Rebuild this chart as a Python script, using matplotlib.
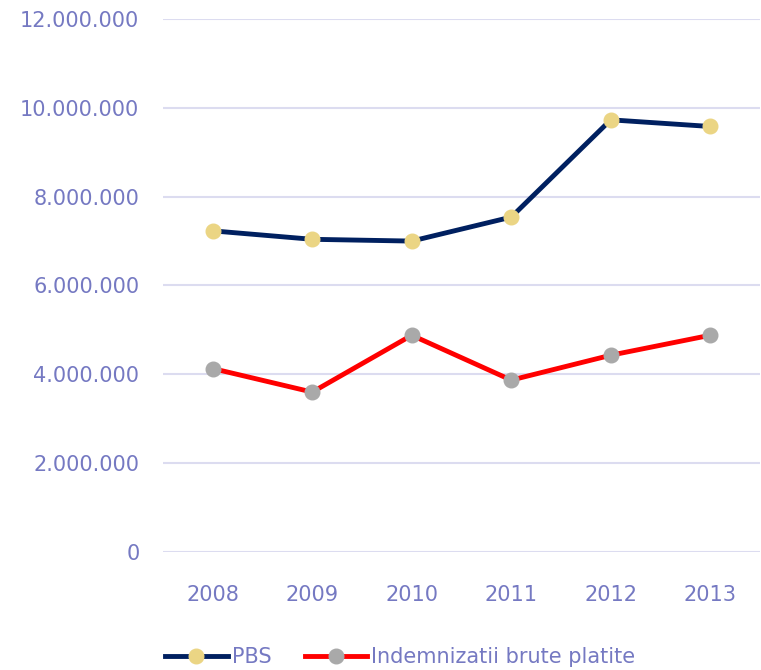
import matplotlib
matplotlib.use('Agg')
import matplotlib.pyplot as plt
from matplotlib.ticker import FuncFormatter

years = ['2008', '2009', '2010', '2011', '2012', '2013']
pbs = [7230000, 7040000, 7000000, 7540000, 9730000, 9580000]
indemnizatii = [4130000, 3600000, 4880000, 3870000, 4430000, 4880000]

txt_col = '#7579C2'
grid_col = '#DCDCF0'

plt.rcParams['font.family'] = ['DejaVu Sans']

fig = plt.figure(figsize=(7.61, 6.70), dpi=100)
ax = fig.add_axes([163/761, 1-552/670, 597/761, 533/670])

x = range(len(years))
ax.plot(x, pbs, color='#002060', lw=3.5, marker='o', ms=10.5,
        mfc='#EBD584', mec='#EBD584', label='PBS', zorder=3)
ax.plot(x, indemnizatii, color='#FF0000', lw=3.5, marker='o', ms=10.5,
        mfc='#A9A9A9', mec='#A9A9A9', label='Indemnizatii brute platite', zorder=3)

ax.set_xlim(-0.5, 5.5)
ax.set_ylim(0, 12000000)
ax.set_yticks(range(0, 12000001, 2000000))
ax.yaxis.set_major_formatter(FuncFormatter(lambda v, p: f'{int(v):,}'.replace(',', '.')))
ax.set_xticks(list(x))
ax.set_xticklabels(years)

ax.grid(axis='y', color=grid_col, lw=1.5)
ax.set_axisbelow(True)
for s in ax.spines.values():
    s.set_visible(False)
ax.tick_params(length=0, labelsize=15, colors=txt_col)
ax.tick_params(axis='y', pad=17)
ax.tick_params(axis='x', pad=24)

# legend under the plot, left aligned
leg = fig.legend(loc='center left', bbox_to_anchor=(165/761, 1-657/670), ncol=2, frameon=False,
                 fontsize=15, handlelength=3.0, handletextpad=0.2, columnspacing=1.6,
                 borderpad=0, borderaxespad=0)
for t in leg.get_texts():
    t.set_color(txt_col)

fig.savefig('out.png', dpi=100)
